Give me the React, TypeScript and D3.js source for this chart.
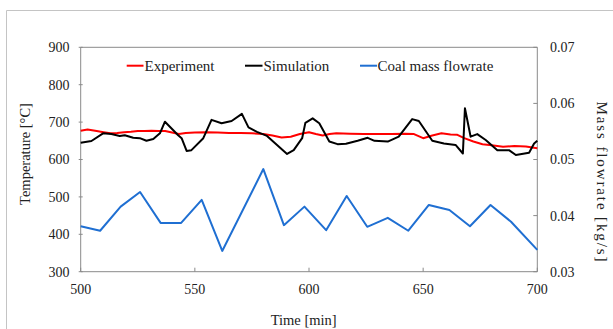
import React from "react";
import * as d3 from "d3";

const W = 613;
const H = 329;

const xTicks = [500, 550, 600, 650, 700];
const yLeftTicks = [300, 400, 500, 600, 700, 800, 900];
const yRightTicks = [0.03, 0.04, 0.05, 0.06, 0.07];

const expTime = [500, 503, 507, 510, 513, 516, 519, 522, 525, 528, 531, 534, 537, 540, 543, 546, 550, 555, 560, 565, 570, 575, 580, 584, 588, 592, 596, 600, 603, 606, 609, 612, 618, 624, 630, 636, 642, 646, 650, 654, 658, 662, 665, 668, 672, 676, 680, 685, 690, 695, 700];
const expTemp = [677, 680, 676, 673, 670, 671, 673, 674, 676, 676, 677, 676, 676, 672, 668, 671, 672, 673, 672, 671, 671, 670, 668, 664, 659, 661, 668, 673, 668, 664, 668, 670, 669, 668, 668, 668, 669, 668, 657, 664, 670, 667, 666, 657, 648, 641, 638, 634, 636, 635, 630];

const simTime = [500, 504.7, 509.8, 513.4, 517.1, 519.3, 523, 525.9, 528.8, 531.8, 534.7, 536.9, 542.7, 544.2, 546.4, 548.5, 553.7, 557.3, 561.7, 566.1, 570.6, 573.5, 577.2, 581.6, 590.4, 593.3, 597, 598.4, 601.6, 604.5, 608.9, 612.5, 616.2, 621.3, 625.7, 628.7, 634.5, 639.3, 645.2, 648.1, 654, 659.1, 664.2, 667.4, 668.3, 670.8, 673.7, 677.4, 682.5, 687.6, 690.6, 696.4, 698.6, 700];
const simTemp = [645, 649.5, 670, 668, 663, 665, 658, 657, 650, 655, 670, 701, 665, 657, 623, 625, 657, 706, 697, 703, 722, 686, 674, 663, 615, 625, 657, 698, 710, 697, 648, 641, 642, 650, 658, 650, 648, 661, 708, 703, 650, 643, 639, 616, 737, 661, 668, 652, 625, 625, 612, 618, 643, 650];

const coalTime = [500, 508.5, 517.5, 526, 535, 544, 553, 562, 580, 589, 598, 607.5, 616.5, 625.5, 634.5, 643.5, 652.5, 661.5, 670.5, 679.5, 688.5, 700];
const coalFlow = [0.0381, 0.0373, 0.0416, 0.0442, 0.0387, 0.0387, 0.0428, 0.0337, 0.0483, 0.0383, 0.0416, 0.0374, 0.0435, 0.038, 0.0396, 0.0373, 0.0419, 0.041, 0.0381, 0.0419, 0.0389, 0.0339];

const FONT = '"Liberation Serif", "Times New Roman", serif';
const AXIS = "#8a8a8a";

export default function App() {
  const x = d3.scaleLinear().domain([500, 700]).range([80.7, 537.3]);
  const yL = d3.scaleLinear().domain([300, 900]).range([271.7, 47.3]);
  const yR = d3.scaleLinear().domain([0.03, 0.07]).range([271.7, 47.3]);

  const lineL = d3
    .line<[number, number]>()
    .x((d) => x(d[0]))
    .y((d) => yL(d[1]));
  const lineR = d3
    .line<[number, number]>()
    .x((d) => x(d[0]))
    .y((d) => yR(d[1]));

  const expPts = expTime.map((t, i) => [t, expTemp[i]] as [number, number]);
  const simPts = simTime.map((t, i) => [t, simTemp[i]] as [number, number]);
  const coalPts = coalTime.map((t, i) => [t, coalFlow[i]] as [number, number]);

  const x0 = x(500);
  const x1 = x(700);
  const yTop = yL(900);
  const yBot = yL(300);

  return (
    <svg
      width={W}
      height={H}
      style={{ position: "absolute", left: 0, top: 0, background: "#fff" }}
      fontFamily={FONT}
    >
      <rect x={0} y={0} width={W} height={H} fill="#fff" />
      {/* outer frame */}
      <line x1={6.5} y1={10.5} x2={W} y2={10.5} stroke="#c4c4c4" strokeWidth={1} />
      <line x1={6.5} y1={10.5} x2={6.5} y2={H} stroke="#c4c4c4" strokeWidth={1} />

      {/* plot box */}
      <line x1={x0} y1={yTop} x2={x1} y2={yTop} stroke={AXIS} strokeWidth={1} />
      <line x1={x0} y1={yTop} x2={x0} y2={yBot} stroke={AXIS} strokeWidth={1} />
      <line x1={x1} y1={yTop} x2={x1} y2={yBot} stroke={AXIS} strokeWidth={1} />
      <line x1={x0} y1={yBot} x2={x1} y2={yBot} stroke={AXIS} strokeWidth={1} />

      {/* x ticks */}
      {xTicks.map((t) => (
        <g key={"x" + t}>
          <line x1={x(t)} x2={x(t)} y1={yBot} y2={yBot - 4} stroke={AXIS} />
          <text x={x(t)} y={293.5} fontSize={14} textAnchor="middle" fill="#222">
            {t}
          </text>
        </g>
      ))}

      {/* left ticks */}
      {yLeftTicks.map((t) => (
        <g key={"yl" + t}>
          <line x1={x0 - 2} x2={x0 + 2} y1={yL(t)} y2={yL(t)} stroke={AXIS} />
          <text x={69.5} y={yL(t)} dy="0.35em" fontSize={14} textAnchor="end" fill="#222">
            {t}
          </text>
        </g>
      ))}

      {/* right ticks */}
      {yRightTicks.map((t) => (
        <g key={"yr" + t}>
          <line x1={x1} x2={x1 - 4} y1={yR(t)} y2={yR(t)} stroke={AXIS} />
          <text x={550} y={yR(t)} dy="0.35em" fontSize={14} textAnchor="start" fill="#222">
            {t.toFixed(2)}
          </text>
        </g>
      ))}

      {/* series */}
      <path d={lineR(coalPts) || ""} fill="none" stroke="#1f6fd2" strokeWidth={2} strokeLinejoin="round" />
      <path d={lineL(expPts) || ""} fill="none" stroke="#ff0000" strokeWidth={2} strokeLinejoin="round" />
      <path d={lineL(simPts) || ""} fill="none" stroke="#000" strokeWidth={2} strokeLinejoin="round" />

      {/* legend */}
      <line x1={126.7} x2={143.5} y1={65.7} y2={65.7} stroke="#ff0000" strokeWidth={2} />
      <text x={144.5} y={70.8} fontSize={15} fill="#222">Experiment</text>
      <line x1={245} x2={262.5} y1={65.7} y2={65.7} stroke="#000" strokeWidth={2} />
      <text x={263.5} y={70.8} fontSize={15} fill="#222">Simulation</text>
      <line x1={360} x2={377} y1={65.7} y2={65.7} stroke="#1f6fd2" strokeWidth={2} />
      <text x={377.5} y={70.8} fontSize={15} fill="#222">Coal mass flowrate</text>

      {/* axis titles */}
      <text x={303.7} y={325} fontSize={14.5} textAnchor="middle" fill="#222">
        Time [min]
      </text>
      <text
        transform={`translate(29.5,154) rotate(-90)`}
        fontSize={14.5}
        textAnchor="middle"
        fill="#222"
      >
        Temperature [°C]
      </text>
      <text
        transform={`translate(597,181.5) rotate(90)`}
        fontSize={15}
        textAnchor="middle"
        fill="#222"
        textLength={160}
        lengthAdjust="spacing"
      >
        Mass flowrate [kg/s]
      </text>
    </svg>
  );
}
